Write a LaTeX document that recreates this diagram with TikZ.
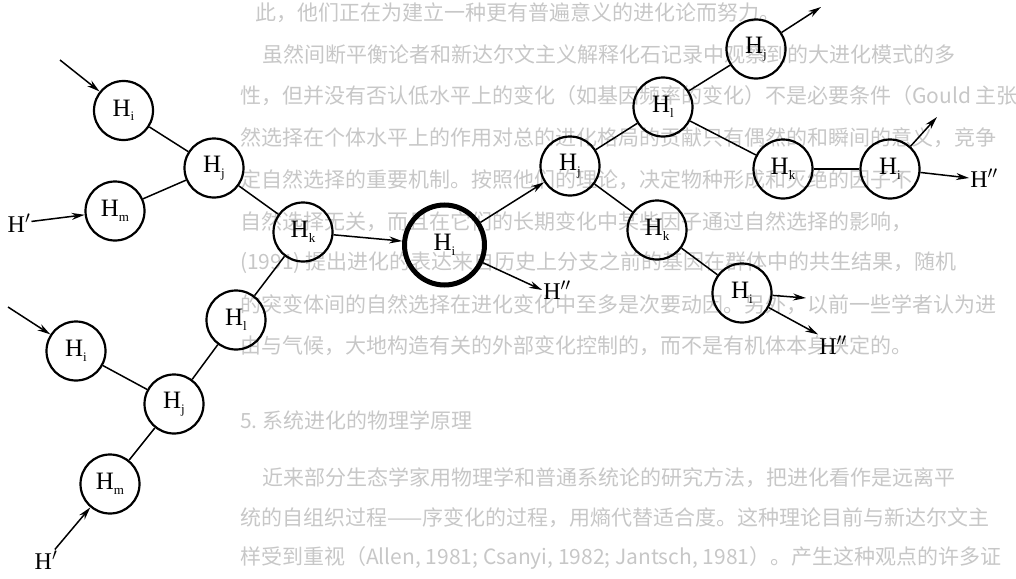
\documentclass[tikz,border=0pt]{standalone}
\usepackage{fontspec}
\setmainfont{Liberation Serif}
\newfontfamily\cjk{Noto Sans CJK SC}
\usetikzlibrary{arrows.meta}
\newcommand{\Hsub}[1]{H\raisebox{-0.4ex}{\fontsize{13}{13}\selectfont #1}}
\begin{document}
\begin{tikzpicture}[x=1pt,y=-1pt,
  st/.style={circle,draw,line width=2.2pt,minimum size=59pt,inner sep=0pt,font=\fontsize{25}{25}\selectfont},
  big/.style={st,line width=5pt,minimum size=80pt},
  lnk/.style={line width=1.5pt},
  arr/.style={lnk,-{Stealth[length=13pt,width=7pt]}},
  lab/.style={font=\fontsize{24}{24}\selectfont,inner sep=1pt},
  bg/.style={anchor=west,inner sep=0pt,text=black!22,font=\cjk\fontsize{21}{21}\selectfont}]
\useasboundingbox (0,0) rectangle (1016,578);
\begin{scope}
\clip (0,0) rectangle (1016,578);
\node[bg] (t1) at (255,13) {此，他们正在为建立一种更有普遍意义的进化论而努力。};
\node[bg] (t2) at (262,54) {虽然间断平衡论者和新达尔文主义解释化石记录中观察到的大进化模式的多};
\node[bg] (t3) at (240,96) {性，但并没有否认低水平上的变化（如基因频率的变化）不是必要条件（Gould 主张};
\node[bg] (t4) at (240,138) {然选择在个体水平上的作用对总的进化格局的贡献只有偶然的和瞬间的意义，竞争};
\node[bg] (t5) at (240,180) {定自然选择的重要机制。按照他们的理论，决定物种形成和灭绝的因子不};
\node[bg] (t6) at (240,222) {自然选择无关，而且在它们的长期变化中某些因子通过自然选择的影响，};
\node[bg] (t7) at (240,263) {(1991) 提出进化的表达来自历史上分支之前的基因在群体中的共生结果，随机};
\node[bg] (t8) at (240,305) {的突变体间的自然选择在进化变化中至多是次要动因。另外，以前一些学者认为进};
\node[bg] (t9) at (240,346) {由与气候，大地构造有关的外部变化控制的，而不是有机体本身决定的。};
\node[bg] (t10) at (240,420) {5.\ 系统进化的物理学原理};
\node[bg] (t11) at (262,478) {近来部分生态学家用物理学和普通系统论的研究方法，把进化看作是远离平};
\node[bg] (t12) at (240,518) {统的自组织过程——序变化的过程，用熵代替适合度。这种理论目前与新达尔文主};
\node[bg] (t13) at (240,558) {样受到重视（Allen, 1981; Csanyi, 1982; Jantsch, 1981）。产生这种观点的许多证};
\end{scope}

% left upper cluster
\node[st] (hi1) at (123.5,110.5) {\Hsub{i}};
\node[st] (hj1) at (214,168) {\Hsub{j}};
\node[st] (hm1) at (115,211) {\Hsub{m}};
\node[st] (hk1) at (303,232) {\Hsub{k}};
\node[big] (hbig) at (444.5,245) {\Hsub{i}};
% left lower cluster
\node[st] (hl2) at (236,320) {\Hsub{l}};
\node[st] (hi4) at (76,351) {\Hsub{i}};
\node[st] (hj4) at (174,404) {\Hsub{j}};
\node[st] (hm2) at (110,484) {\Hsub{m}};
% right cluster
\node[st] (hj2) at (570,166) {\Hsub{j}};
\node[st] (hl1) at (663,107) {\Hsub{l}};
\node[st] (hj3) at (756,49) {\Hsub{j}};
\node[st] (hk2) at (783,169) {\Hsub{k}};
\node[st] (hi2) at (890,169) {\Hsub{i}};
\node[st] (hk3) at (657,230) {\Hsub{k}};
\node[st] (hi3) at (742,293) {\Hsub{i}};

% labels
\node[lab] (p1) at (19,223) {H$'$};
\node[lab] (p2) at (46,560) {H$'$};
\node[lab] (q1) at (557,290) {H$''$};
\node[lab] (q2) at (984,178) {H$''$};
\node[lab] (q3) at (833,345) {H$''$};

% free ends
\coordinate (in1) at (60,60);
\coordinate (in4) at (8,307);
\coordinate (out3) at (821,7);
\coordinate (out2) at (937,117);
\coordinate (out3b) at (806,298);

% connectors
\draw[arr] (in1) -- (hi1);
\draw[arr] (p1) -- (hm1);
\draw[lnk] (hi1) -- (hj1);
\draw[lnk] (hm1) -- (hj1);
\draw[lnk] (hj1) -- (hk1);
\draw[lnk] (hl2) -- (hk1);
\draw[arr] (hk1) -- (hbig);
\draw[arr] (in4) -- (hi4);
\draw[lnk] (hi4) -- (hj4);
\draw[lnk] (hj4) -- (hl2);
\draw[lnk] (hj4) -- (hm2);
\draw[arr] (p2) -- (hm2);
\draw[arr] (hbig) -- (hj2);
\draw[arr] (hbig) -- (q1.west);
\draw[lnk] (hj2) -- (hl1);
\draw[lnk] (hl1) -- (hj3);
\draw[arr] (hj3) -- (out3);
\draw[lnk] (hl1) -- (hk2);
\draw[lnk] (hk2) -- (hi2);
\draw[arr] (hi2) -- (out2);
\draw[arr] (hi2) -- (q2.west);
\draw[lnk] (hj2) -- (hk3);
\draw[lnk] (hk3) -- (hi3);
\draw[arr] (hi3) -- (out3b);
\draw[arr] (hi3) -- (q3.north west);
\end{tikzpicture}
\end{document}
